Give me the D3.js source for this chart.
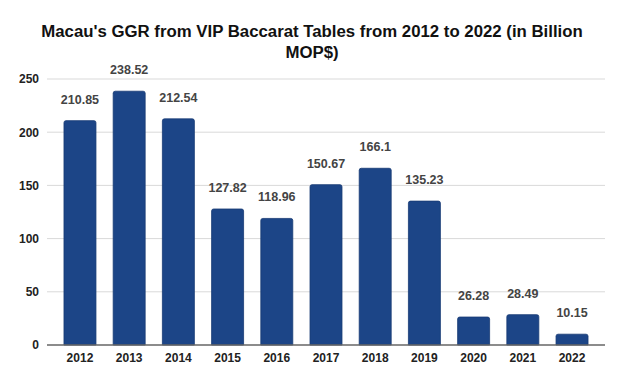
<!DOCTYPE html>
<html>
<head>
<meta charset="utf-8">
<script src="https://cdn.jsdelivr.net/npm/d3@7.9.0/dist/d3.min.js"></script>
<style>
  body { margin: 0; background: #fff; }
  svg { display: block; font-family: "Liberation Sans", Arial, sans-serif; }
</style>
</head>
<body>
<svg id="chart" width="624" height="385"></svg>
<script>
// Data
const years = ['2012', '2013', '2014', '2015', '2016', '2017', '2018', '2019', '2020', '2021', '2022'];
const ggr = [210.85, 238.52, 212.54, 127.82, 118.96, 150.67, 166.1, 135.23, 26.28, 28.49, 10.15];
const yTicks = [0, 50, 100, 150, 200, 250];

const svg = d3.select('#chart');

// Plot area
const plotLeft = 47, plotRight = 605, plotTop = 79, plotBottom = 345;

let x = d3.scaleBand()
  .domain(years)
  .range([plotLeft, plotRight])
  .paddingInner(0.35)
  .paddingOuter(0.345);

let y = d3.scaleLinear()
  .domain([0, 250])
  .range([plotBottom, plotTop]);

// Title
svg.append('text')
  .attr('x', 312)
  .attr('y', 37)
  .attr('text-anchor', 'middle')
  .attr('font-size', 16.8)
  .attr('font-weight', 'bold')
  .attr('fill', '#111')
  .selectAll('tspan')
  .data(["Macau's GGR from VIP Baccarat Tables from 2012 to 2022 (in Billion", 'MOP$)'])
  .enter()
  .append('tspan')
  .attr('x', 312)
  .attr('dy', (d, i) => i === 0 ? 0 : 21)
  .text(d => d);

// Gridlines
svg.append('g')
  .selectAll('line')
  .data(yTicks.filter(d => d > 0))
  .enter()
  .append('line')
  .attr('x1', plotLeft)
  .attr('x2', plotRight)
  .attr('y1', d => y(d))
  .attr('y2', d => y(d))
  .attr('stroke', '#d9d9d9')
  .attr('stroke-width', 1);

// Y axis labels
let yAxis = svg.append('g')
  .attr('transform', `translate(${plotLeft},0)`)
  .call(d3.axisLeft(y).tickValues(yTicks).tickSize(0).tickPadding(8));
yAxis.select('.domain').remove();
yAxis.selectAll('text')
  .attr('font-size', 12)
  .attr('font-weight', 'bold')
  .attr('fill', '#222')
  .attr('font-family', '"Liberation Sans", Arial, sans-serif');

// Bars
svg.append('g')
  .selectAll('path')
  .data(years.map((yr, i) => ({ year: yr, value: ggr[i] })))
  .enter()
  .append('path')
  .attr('d', d => {
    let x0 = x(d.year), w = x.bandwidth(), y0 = y(d.value), r = 2;
    return `M${x0},${plotBottom}V${y0 + r}Q${x0},${y0} ${x0 + r},${y0}H${x0 + w - r}Q${x0 + w},${y0} ${x0 + w},${y0 + r}V${plotBottom}Z`;
  })
  .attr('fill', '#1c4587')
  .attr('stroke', '#163a73')
  .attr('stroke-width', 0.8);

// Value labels
svg.append('g')
  .selectAll('text')
  .data(years.map((yr, i) => ({ year: yr, value: ggr[i] })))
  .enter()
  .append('text')
  .attr('x', d => x(d.year) + x.bandwidth() / 2)
  .attr('y', d => y(d.value) - 17)
  .attr('text-anchor', 'middle')
  .attr('font-size', 12.5)
  .attr('font-weight', 'bold')
  .attr('fill', '#444')
  .text(d => d.value);

// Baseline
svg.append('line')
  .attr('x1', plotLeft)
  .attr('x2', plotRight)
  .attr('y1', plotBottom)
  .attr('y2', plotBottom)
  .attr('stroke', '#666')
  .attr('stroke-width', 1.5);

// X axis labels
let xAxis = svg.append('g')
  .attr('transform', `translate(0,${plotBottom})`)
  .call(d3.axisBottom(x).tickSize(0).tickPadding(8));
xAxis.select('.domain').remove();
xAxis.selectAll('text')
  .attr('font-size', 12)
  .attr('font-weight', 'bold')
  .attr('fill', '#222')
  .attr('font-family', '"Liberation Sans", Arial, sans-serif');
</script>
</body>
</html>
